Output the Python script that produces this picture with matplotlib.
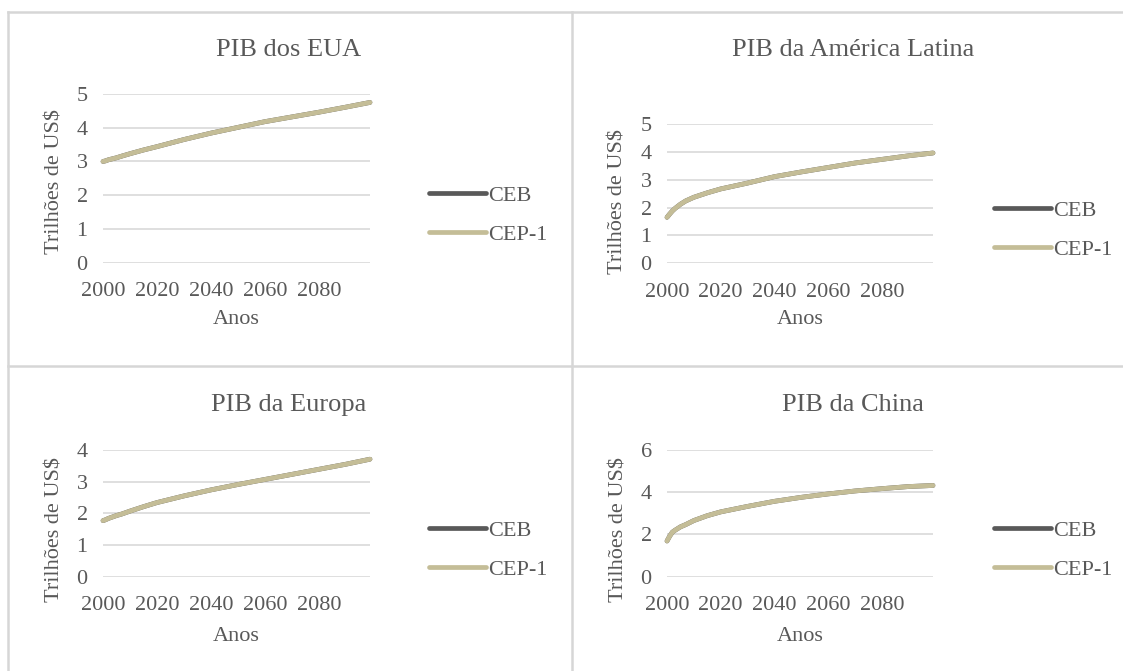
import numpy as np
import matplotlib
matplotlib.use("Agg")
import matplotlib.pyplot as plt
from matplotlib.lines import Line2D

plt.rcParams["font.family"] = ["Liberation Serif", "DejaVu Serif"]

W, H = 1123, 671
TEXT = "#595959"
GRID = "#D9D9D9"
CEB_COLOR = "#595959"
CEP_COLOR = "#C4BD97"

# Data (trillions of US$)
years = [2000, 2001, 2002, 2003, 2005, 2007, 2010, 2015, 2020, 2030, 2040,
         2050, 2060, 2070, 2080, 2090, 2099]
eua = [3.00, 3.02, 3.05, 3.07, 3.11, 3.16, 3.23, 3.34, 3.44, 3.65, 3.84,
       4.01, 4.18, 4.32, 4.46, 4.61, 4.75]
america_latina = [1.65, 1.77, 1.88, 1.97, 2.12, 2.24, 2.37, 2.53, 2.67, 2.88, 3.11,
                  3.28, 3.44, 3.60, 3.73, 3.86, 3.96]
europa = [1.77, 1.80, 1.84, 1.87, 1.93, 1.98, 2.07, 2.21, 2.34, 2.55, 2.74,
          2.91, 3.07, 3.23, 3.39, 3.55, 3.71]
china = [1.69, 1.92, 2.11, 2.20, 2.36, 2.47, 2.66, 2.89, 3.07, 3.33, 3.57,
         3.76, 3.92, 4.06, 4.17, 4.27, 4.32]

# both scenarios coincide in the reference
ceb = {"eua": eua, "al": america_latina, "eu": europa, "cn": china}
cep1 = {"eua": eua, "al": america_latina, "eu": europa, "cn": china}

xticks = [2000, 2020, 2040, 2060, 2080]
series_labels = ["CEB", "CEP-1"]


def fx(px):
    return px / W


def fy(py):
    return 1 - py / H


def panel(fig, key, title, yticks, box, title_xy, ylabel_xy, legend_xy, anos_y):
    left, right, top, bottom = box
    ax = fig.add_axes([fx(left), fy(bottom), (right - left) / W, (bottom - top) / H])
    ax.plot(years, ceb[key], color=CEB_COLOR, lw=3.4, solid_capstyle="round",
            solid_joinstyle="round", label=series_labels[0], clip_on=False, zorder=3)
    ax.plot(years, cep1[key], color=CEP_COLOR, lw=3.4, solid_capstyle="round",
            solid_joinstyle="round", label=series_labels[1], clip_on=False, zorder=4)
    ax.set_xlim(2000, 2099)
    ax.set_ylim(yticks[0], yticks[-1])
    ax.set_xticks(xticks)
    ax.set_yticks(yticks)
    ax.grid(axis="y", color=GRID, lw=1.2)
    ax.set_axisbelow(True)
    for s in ax.spines.values():
        s.set_visible(False)
    ax.tick_params(length=0, labelsize=16, colors=TEXT)
    ax.tick_params(axis="y", pad=11)
    ax.tick_params(axis="x", pad=14)

    fig.text(fx(title_xy[0]), fy(title_xy[1]), title, ha="center", va="center",
             fontsize=19, color=TEXT)
    fig.text(fx(ylabel_xy[0]), fy(ylabel_xy[1]), "Trilhões de US$", rotation=90,
             ha="center", va="center", fontsize=16, color=TEXT)
    fig.text(fx((left + right) / 2), fy(anos_y), "Anos", ha="center", va="center",
             fontsize=16, color=TEXT)

    ax.legend(loc="center left", bbox_to_anchor=(fx(legend_xy[0]), fy(legend_xy[1])),
              bbox_transform=fig.transFigure, frameon=False, fontsize=16,
              labelcolor=TEXT, handlelength=2.55, handletextpad=0.1,
              labelspacing=0.85, borderpad=0, borderaxespad=0)
    return ax


fig = plt.figure(figsize=(W / 100, H / 100), dpi=100)

panel(fig, "eua", "PIB dos EUA", [0, 1, 2, 3, 4, 5], (103, 370, 94, 262.7),
      (289, 50), (55, 182), (429, 215), 320)
panel(fig, "al", "PIB da América Latina", [0, 1, 2, 3, 4, 5], (667, 933, 124, 263.3),
      (853, 50), (618, 202), (994, 230), 320)
panel(fig, "eu", "PIB da Europa", [0, 1, 2, 3, 4], (103, 370, 450, 576.7),
      (289, 405), (55, 530), (429, 550), 636.7)
panel(fig, "cn", "PIB da China", [0, 2, 4, 6], (667, 933, 450, 576.7),
      (853, 405), (619, 530), (994, 550), 636.7)

# table-like cell borders
border = dict(color="#D6D6D6", lw=1.8, transform=fig.transFigure)
fig.add_artist(Line2D([fx(8), 1], [fy(12), fy(12)], **border))
fig.add_artist(Line2D([fx(8), fx(8)], [fy(12), 0], **border))
fig.add_artist(Line2D([fx(572), fx(572)], [fy(12), 0], **border))
fig.add_artist(Line2D([fx(8), 1], [fy(366), fy(366)], **border))

fig.savefig("out.png", dpi=100)
